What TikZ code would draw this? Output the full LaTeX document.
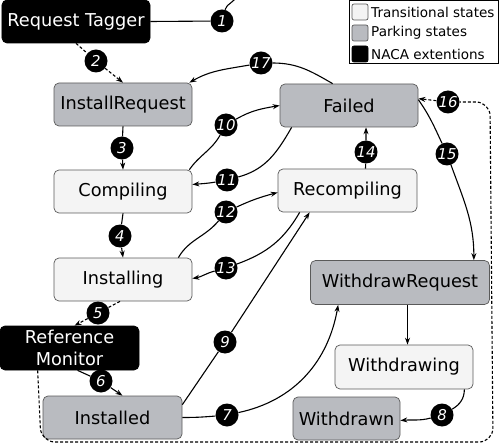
\documentclass[tikz,border=0pt]{standalone}
\usepackage{fontspec}
\setmainfont{DejaVu Sans}
\usetikzlibrary{arrows.meta,calc}
\definecolor{parkgray}{HTML}{B9BBC0}
\definecolor{transfill}{HTML}{F4F4F4}
\definecolor{boxline}{HTML}{5A5A5A}
\begin{document}
\begin{tikzpicture}[x=1bp,y=-1bp,
  state/.style={rectangle,rounded corners=5bp,draw=boxline,line width=0.7bp,
    minimum width=138bp,minimum height=43bp,inner sep=0pt,align=center,
    font=\fontsize{17.8}{22}\selectfont},
  trans/.style={state,fill=transfill},
  park/.style={state,fill=parkgray},
  naca/.style={state,fill=black,draw=black,text=white},
  num/.style={circle,fill=black,text=white,minimum size=23bp,inner sep=0pt,
    font=\fontsize{15}{15}\selectfont\itshape},
  edge/.style={line width=1.1bp,-{Stealth[length=7bp,width=5bp]}},
  dedge/.style={edge,dash pattern=on 3bp off 2bp},
  legsq/.style={rectangle,rounded corners=2bp,draw=boxline,line width=0.7bp,minimum size=16bp,inner sep=0pt},
  legtxt/.style={anchor=west,inner sep=0pt,font=\fontsize{13.6}{16}\selectfont}]
\useasboundingbox (0,0) rectangle (499,444);

% states
\node[naca] (tagger) at (76,21.5) [minimum width=148bp] {Request Tagger};
\node[park] (ireq) at (123,104.5) {InstallRequest};
\node[trans] (comp) at (123,191.5) {Compiling};
\node[trans] (inst) at (123,279.5) {Installing};
\node[naca] (refmon) at (69.5,348) [minimum width=139bp,minimum height=44bp] {Reference\\Monitor};
\node[park] (installed) at (112.5,417.5) [minimum width=139bp] {Installed};
\node[park] (failed) at (349,105.5) {Failed};
\node[trans] (recomp) at (347.5,190.5) [minimum width=139bp] {Recompiling};
\node[park] (wreq) at (400,282.5) [minimum width=179bp,minimum height=44bp] {WithdrawRequest};
\node[trans] (wing) at (404,367) [minimum height=44bp] {Withdrawing};
\node[park] (wn) at (346.5,418.5) [minimum width=107bp] {Withdrawn};

% numbered labels
\node[num] (n1) at (222,21) {1};
\node[num] (n2) at (96,61) {2};
\node[num] (n3) at (122,148) {3};
\node[num] (n4) at (120,236) {4};
\node[num] (n5) at (98,313) {5};
\node[num] (n6) at (101,381) {6};
\node[num] (n7) at (227,415) {7};
\node[num] (n8) at (442,415) {8};
\node[num] (n9) at (225,342) {9};
\node[num] (n10) at (226,125) {10};
\node[num] (n11) at (227,180) {11};
\node[num] (n12) at (226,212) {12};
\node[num] (n13) at (226,268) {13};
\node[num] (n14) at (366,152) {14};
\node[num] (n15) at (447,154) {15};
\node[num] (n16) at (448,102) {16};
\node[num] (n17) at (261,63) {17};

% legend
\node[draw=black,line width=0.8bp,minimum width=149bp,minimum height=63bp,inner sep=0pt] (legend) at (423.5,31.5) {};
\node[legsq,fill=transfill] (lsq1) at (360,12) {};
\node[legsq,fill=parkgray] (lsq2) at (360,33) {};
\node[legsq,fill=black,draw=black] (lsq3) at (360,54) {};
\node[legtxt] (lt1) at (371,12) {Transitional states};
\node[legtxt] (lt2) at (371,33) {Parking states};
\node[legtxt] (lt3) at (371,54) {NACA extentions};

% connectors
\coordinate (top1) at (236,-4);
\draw[line width=1.1bp] (tagger.east) -- (n1) to[out=75,in=-100] (top1);
\draw[dedge] (tagger.south) -- (n2) -- (ireq.north);
\draw[edge] (ireq.south) -- (n3) -- (comp.north);
\draw[edge] (comp.south) -- (n4) -- (inst.north);
\draw[dedge] ($(inst.south)+(-3,0)$) -- (n5) -- ($(refmon.north)+(5,0)$);
\draw[edge] ($(refmon.south)+(8,0)$) -- (n6) -- ($(installed.north)+(10,0)$);
\draw[edge] (installed.east) to[out=0,in=185] (n7) to[out=12,in=-100] ($(wreq.south west)+(28,0)$);
\draw[edge] ($(installed.north east)+(0,9)$) -- (n9) -- ($(recomp.south west)+(32,0)$);
\draw[edge] ($(wing.south east)+(-9,0)$) to[out=-90,in=30] (n8) to[out=195,in=5] ($(wn.east)+(0,2)$);
\coordinate (wtop) at ($(wing.north)+(3.5,0)$);
\draw[edge] (wreq.south -| wtop) -- (wtop);
\draw[edge] ($(comp.north east)+(-3,0)$) to[out=55,in=-120] (n10) to[out=30,in=190] (failed.west);
\draw[edge] ($(failed.south west)+(12,0)$) to[out=-120,in=15] (n11) to[out=190,in=5] ($(comp.east)+(0,-7)$);
\draw[edge] ($(inst.north east)+(-14,0)$) to[out=60,in=-130] (n12) to[out=25,in=195] ($(recomp.west)+(0,2)$);
\draw[edge] ($(recomp.south west)+(22,0)$) to[out=-120,in=20] (n13) to[out=195,in=10] ($(inst.east)+(0,-1)$);
\draw[edge] ($(recomp.north)+(18,0)$) -- (n14) -- ($(failed.south)+(17,0)$);
\draw[edge] ($(failed.north east)+(0,16)$) to[out=-55,in=115] (n15) to[out=-70,in=90] ($(wreq.north east)+(-16,0)$);
\draw[edge] ($(failed.north west)+(53,0)$) to[out=150,in=0] (n17) to[out=190,in=30] ($(ireq.north east)+(-3,0)$);
\coordinate (d1) at (41,442);
\coordinate (d2) at (493,442);
\coordinate (d3) at (490,102);
\draw[line width=1.1bp,dash pattern=on 3bp off 2bp,rounded corners=14bp] ($(refmon.south west)+(38,0)$) -- (d1) -- (d2) -- (d3) -- (n16);
\draw[dedge] (n16) -- ($(failed.north east)+(0,15)$);
\end{tikzpicture}
\end{document}
